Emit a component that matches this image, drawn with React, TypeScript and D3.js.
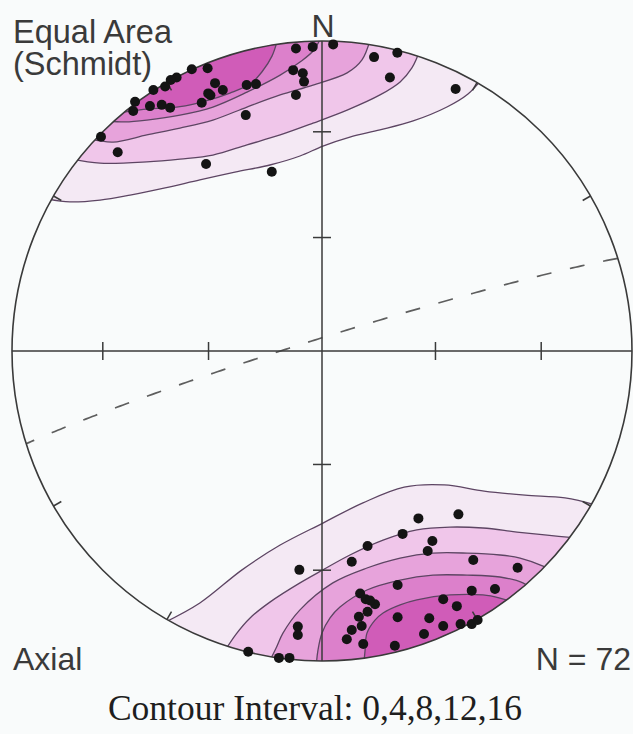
import React from "react";
import * as d3 from "d3";

type P = [number, number];

// ---- data (equal-area projection coordinates, unit primitive circle) ----
const topPoints: P[] = [
  [-0.084, 0.976], [-0.030, 0.981], [0.036, 0.989], [0.168, 0.948], [0.243, 0.962],
  [0.219, 0.882], [0.431, 0.845], [-0.420, 0.909], [-0.369, 0.912], [-0.469, 0.882],
  [-0.488, 0.874], [-0.506, 0.853], [-0.544, 0.842], [-0.603, 0.804], [-0.609, 0.774],
  [-0.555, 0.790], [-0.517, 0.794], [-0.490, 0.785], [-0.345, 0.864], [-0.320, 0.842],
  [-0.367, 0.831], [-0.388, 0.801], [-0.243, 0.858], [-0.213, 0.861], [-0.093, 0.906],
  [-0.062, 0.896], [-0.058, 0.869], [-0.084, 0.826], [-0.246, 0.761], [-0.713, 0.691],
  [-0.659, 0.641], [-0.374, 0.603], [-0.162, 0.578], [-0.360, 0.825],
];

const bottomPoints: P[] = [
  [0.311, -0.540], [0.440, -0.527], [0.260, -0.590], [0.356, -0.613], [0.341, -0.645],
  [0.147, -0.629], [0.096, -0.680], [-0.073, -0.706], [0.488, -0.674], [0.631, -0.699],
  [0.244, -0.755], [0.483, -0.773], [0.558, -0.768], [0.123, -0.782], [0.141, -0.801],
  [0.171, -0.817], [0.147, -0.841], [0.119, -0.857], [0.128, -0.887], [0.096, -0.900],
  [0.080, -0.930], [0.133, -0.945], [0.244, -0.859], [0.235, -0.951], [0.391, -0.801],
  [0.435, -0.823], [0.346, -0.862], [0.391, -0.887], [0.329, -0.913], [0.447, -0.881],
  [0.483, -0.881], [0.502, -0.868], [-0.078, -0.889], [-0.078, -0.916], [-0.238, -0.970],
  [-0.139, -0.990], [-0.105, -0.990], [0.155, -0.805],
];

const contourLevels = [0, 4, 8, 12, 16];

const topContours: P[][] = [
  [[-0.884, 0.490], [-0.813, 0.481], [-0.716, 0.487], [-0.619, 0.503], [-0.506, 0.526], [-0.394, 0.552],
   [-0.281, 0.577], [-0.168, 0.600], [-0.071, 0.629], [0.003, 0.661], [0.090, 0.690], [0.187, 0.713],
   [0.294, 0.742], [0.403, 0.787], [0.471, 0.829], [0.519, 0.881]],
  [[-0.806, 0.619], [-0.716, 0.606], [-0.565, 0.610], [-0.458, 0.619], [-0.352, 0.632], [-0.242, 0.665],
   [-0.135, 0.697], [-0.029, 0.735], [0.081, 0.777], [0.187, 0.826], [0.252, 0.868], [0.290, 0.913], [0.316, 0.971]],
  [[-0.748, 0.684], [-0.674, 0.674], [-0.565, 0.697], [-0.458, 0.719], [-0.352, 0.745], [-0.242, 0.787],
   [-0.135, 0.826], [-0.029, 0.858], [0.081, 0.897], [0.129, 0.939], [0.155, 1.003]],
  [[-0.690, 0.742], [-0.635, 0.739], [-0.565, 0.745], [-0.458, 0.761], [-0.352, 0.787], [-0.242, 0.835],
   [-0.135, 0.890], [-0.071, 0.932], [-0.026, 0.971], [0.000, 1.019]],
  [[-0.665, 0.765], [-0.619, 0.774], [-0.555, 0.781], [-0.458, 0.788], [-0.377, 0.806], [-0.297, 0.832],
   [-0.232, 0.861], [-0.194, 0.900], [-0.161, 0.952], [-0.142, 1.010]],
];

const bottomContours: P[][] = [
  [[-0.510, -0.877], [-0.394, -0.813], [-0.258, -0.706], [-0.135, -0.626], [0.003, -0.555], [0.132, -0.490],
   [0.265, -0.439], [0.394, -0.432], [0.523, -0.452], [0.655, -0.465], [0.784, -0.474], [0.884, -0.497]],
  [[-0.316, -0.971], [-0.277, -0.913], [-0.232, -0.861], [-0.168, -0.810], [-0.071, -0.748], [0.003, -0.706],
   [0.090, -0.658], [0.197, -0.610], [0.306, -0.577], [0.413, -0.568], [0.519, -0.571], [0.629, -0.584],
   [0.726, -0.594], [0.819, -0.603]],
  [[-0.174, -1.010], [-0.148, -0.958], [-0.126, -0.910], [-0.071, -0.835], [0.035, -0.748], [0.145, -0.700],
   [0.252, -0.668], [0.358, -0.652], [0.468, -0.652], [0.574, -0.658], [0.639, -0.668], [0.713, -0.694], [0.735, -0.706]],
  [[-0.019, -1.019], [-0.013, -0.965], [0.000, -0.910], [0.026, -0.861], [0.058, -0.826], [0.145, -0.771],
   [0.252, -0.739], [0.358, -0.723], [0.468, -0.723], [0.574, -0.729], [0.648, -0.748], [0.681, -0.771]],
  [[0.135, -1.010], [0.139, -0.965], [0.145, -0.910], [0.171, -0.868], [0.197, -0.845], [0.252, -0.819],
   [0.306, -0.803], [0.413, -0.787], [0.519, -0.787], [0.574, -0.797], [0.616, -0.810]],
];

const axisTickAngles = [30, 60]; // angular distance from centre, degrees
const rimTickAzimuths = [30, 60, 120, 150, 210, 240, 300, 330];
const greatCircleStrike = 72.6;
const greatCircleDip = 86.7;

const titleLines = ["Equal Area", "(Schmidt)"];
const northLabel = "N";
const typeLabel = "Axial";
const countLabel = "N = 72";
const intervalLabel = "Contour Interval: " + contourLevels.join(",");

// ---- styles ----
const levelFills = ["#f4e9f4", "#f0c6ea", "#e7a3db", "#dc80cb", "#d05cb8"];
const CX = 322, CY = 351, R = 310;

const x = d3.scaleLinear().domain([-1, 1]).range([CX - R, CX + R]);
const y = d3.scaleLinear().domain([-1, 1]).range([CY + R, CY - R]);

const rad = (d: number) => (d * Math.PI) / 180;
function project(trend: number, plunge: number): P {
  const r = Math.SQRT2 * Math.sin(rad(90 - plunge) / 2);
  return [r * Math.sin(rad(trend)), r * Math.cos(rad(trend))];
}

const curveLine = d3
  .line<P>()
  .x((d) => x(d[0]))
  .y((d) => y(d[1]))
  .curve(d3.curveCatmullRom.alpha(0.5));

function fillPath(pts: P[]): string {
  const first = pts[0];
  const last = pts[pts.length - 1];
  const aEnd = Math.atan2(last[1], last[0]);
  const aStart = Math.atan2(first[1], first[0]);
  let diff = aStart - aEnd;
  while (diff > Math.PI) diff -= 2 * Math.PI;
  while (diff < -Math.PI) diff += 2 * Math.PI;
  const n = 24;
  const arc: P[] = d3.range(n + 1).map((i) => {
    const a = aEnd + (diff * i) / n;
    return [1.6 * Math.cos(a), 1.6 * Math.sin(a)];
  });
  return (
    (curveLine(pts) as string) +
    arc.map((p) => `L${x(p[0])},${y(p[1])}`).join("") +
    `L${x(first[0])},${y(first[1])}Z`
  );
}

function greatCirclePoints(strike: number, dip: number): P[] {
  const dd = strike - 90;
  const s = [Math.sin(rad(strike)), Math.cos(rad(strike)), 0];
  const dv = [
    Math.sin(rad(dd)) * Math.cos(rad(dip)),
    Math.cos(rad(dd)) * Math.cos(rad(dip)),
    Math.sin(rad(dip)),
  ];
  return d3.range(0, 181, 1).map((t) => {
    const c = Math.cos(rad(t)), sn = Math.sin(rad(t));
    const e = c * s[0] + sn * dv[0];
    const nn = c * s[1] + sn * dv[1];
    const dn = Math.min(1, Math.max(-1, c * s[2] + sn * dv[2]));
    const plunge = (Math.asin(dn) * 180) / Math.PI;
    const trend = (Math.atan2(e, nn) * 180) / Math.PI;
    return project(trend, plunge);
  });
}

export default function App() {
  const gc = greatCirclePoints(greatCircleStrike, greatCircleDip);
  const gcLine = d3.line<P>().x((d) => x(d[0])).y((d) => y(d[1]));
  const tickR = axisTickAngles.map((a) => Math.SQRT2 * Math.sin(rad(a) / 2));
  const sans = "'Liberation Sans', Arial, sans-serif";
  const serif = "'Liberation Serif', 'Times New Roman', serif";
  const ink = "#3a3a3a";
  const contourStroke = "#5d4563";

  return (
    <div style={{ position: "absolute", left: 0, top: 0 }}>
      <svg width={633} height={734} viewBox="0 0 633 734">
        <defs>
          <clipPath id="prim">
            <circle cx={x(0)} cy={y(0)} r={x(1) - x(0)} />
          </clipPath>
        </defs>
        <rect x={0} y={0} width={633} height={734} fill="#f9fbfb" />

        <g clipPath="url(#prim)">
          {[topContours, bottomContours].map((set, si) =>
            set.map((pts, li) => (
              <path key={`f${si}-${li}`} d={fillPath(pts)} fill={levelFills[li]} stroke="none" />
            ))
          )}
          {[topContours, bottomContours].map((set, si) =>
            set.map((pts, li) => (
              <path key={`s${si}-${li}`} d={curveLine(pts) as string} fill="none" stroke={contourStroke} strokeWidth={1.3} />
            ))
          )}
          <path
            d={gcLine(gc) as string}
            fill="none"
            stroke="#5e5e5e"
            strokeWidth={1.7}
            strokeDasharray="15 19"
          />
        </g>

        <line x1={x(-1)} y1={y(0)} x2={x(1)} y2={y(0)} stroke={ink} strokeWidth={1.5} />
        <line x1={x(0)} y1={y(1)} x2={x(0)} y2={y(-1)} stroke={ink} strokeWidth={1.5} />
        {tickR.flatMap((r) => [r, -r]).map((r, i) => (
          <g key={`t${i}`}>
            <line x1={x(r)} y1={y(0) - 9} x2={x(r)} y2={y(0) + 9} stroke={ink} strokeWidth={1.5} />
            <line x1={x(0) - 9} y1={y(r)} x2={x(0) + 9} y2={y(r)} stroke={ink} strokeWidth={1.5} />
          </g>
        ))}
        {rimTickAzimuths.map((az) => {
          const u = Math.sin(rad(az)), v = Math.cos(rad(az));
          const k = 1 - 9 / R;
          return (
            <line key={`r${az}`} x1={x(u)} y1={y(v)} x2={x(u * k)} y2={y(v * k)} stroke={ink} strokeWidth={1.5} />
          );
        })}
        <circle cx={x(0)} cy={y(0)} r={x(1) - x(0)} fill="none" stroke={ink} strokeWidth={1.6} />

        {[...topPoints, ...bottomPoints].map((p, i) => (
          <circle key={`p${i}`} cx={x(p[0])} cy={y(p[1])} r={5} fill="#141414" />
        ))}

        <text x={x(0) + 1} y={37} textAnchor="middle" fontFamily={sans} fontSize={32} fill={ink}>
          {northLabel}
        </text>
        {titleLines.map((t, i) => (
          <text key={t} x={13} y={43 + i * 32} fontFamily={sans} fontSize={32.5} fill={ink}>
            {t}
          </text>
        ))}
        <text x={13} y={670} fontFamily={sans} fontSize={32} fill={ink}>
          {typeLabel}
        </text>
        <text x={631} y={670} textAnchor="end" fontFamily={sans} fontSize={32} fill={ink}>
          {countLabel}
        </text>
        <text x={315} y={720} textAnchor="middle" fontFamily={serif} fontSize={35.5} fill="#1e1e1e">
          {intervalLabel}
        </text>
      </svg>
    </div>
  );
}
